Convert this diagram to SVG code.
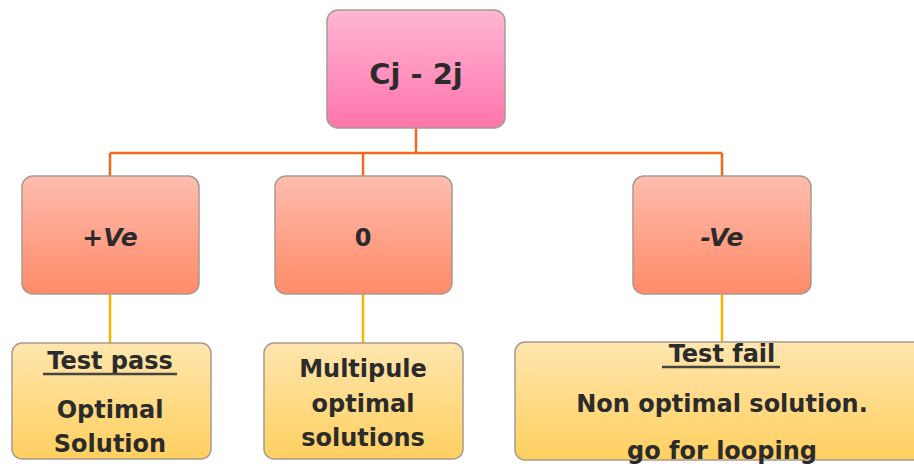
<svg xmlns="http://www.w3.org/2000/svg" width="914" height="466" viewBox="0 0 914 466">
<defs>
<linearGradient id="gPink" x1="0" y1="0" x2="0" y2="1"><stop offset="0" stop-color="#FFB6D3"/><stop offset="1" stop-color="#FF74AC"/></linearGradient>
<linearGradient id="gSalmon" x1="0" y1="0" x2="0" y2="1"><stop offset="0" stop-color="#FFBDAE"/><stop offset="1" stop-color="#FF8A68"/></linearGradient>
<linearGradient id="gYellow" x1="0" y1="0" x2="0" y2="1"><stop offset="0" stop-color="#FFE6AE"/><stop offset="1" stop-color="#FFD060"/></linearGradient>
</defs>
<style>
.box{stroke:#A89A90;stroke-width:1.5}
.t{font-family:"Comic Sans MS","DejaVu Sans",sans-serif;font-weight:bold;fill:#2B2B2B;text-anchor:middle}
.it{font-style:italic}
.or{stroke:#F26A1B;stroke-width:2.5;fill:none}
.ye{stroke:#F7B500;stroke-width:2.5;fill:none}
.ul{stroke:#444;stroke-width:2.5}
</style>
<g id="connectors">
<path class="or" d="M416 128V153M110 153H722M110 153V176M363 153V176M722 153V176"/>
<path class="ye" d="M110 294V343M363 294V343M722 294V342"/>
</g>
<g id="root">
<rect class="box" x="327" y="10" width="178" height="118" rx="11" fill="url(#gPink)"/>
<text class="t" x="416" y="84" font-size="29">Cj - 2j</text>
</g>
<g id="pos">
<rect class="box" x="22" y="176" width="177" height="118" rx="11" fill="url(#gSalmon)"/>
<text class="t it" x="110" y="246" font-size="25">+Ve</text>
</g>
<g id="zero">
<rect class="box" x="275" y="176" width="177" height="118" rx="11" fill="url(#gSalmon)"/>
<text class="t" x="363" y="246" font-size="24">0</text>
</g>
<g id="neg">
<rect class="box" x="633" y="176" width="178" height="118" rx="11" fill="url(#gSalmon)"/>
<text class="t it" x="722" y="246" font-size="25">-Ve</text>
</g>
<g id="testpass">
<rect class="box" x="12" y="343" width="199" height="116" rx="10" fill="url(#gYellow)"/>
<text class="t" x="110" y="369" font-size="24">Test pass</text>
<line class="ul" x1="43" y1="374" x2="177" y2="374"/>
<text class="t" x="110" y="418" font-size="24">Optimal</text>
<text class="t" x="110" y="452" font-size="24">Solution</text>
</g>
<g id="multiple">
<rect class="box" x="264" y="343" width="199" height="116" rx="10" fill="url(#gYellow)"/>
<text class="t" x="363" y="377" font-size="24">Multipule</text>
<text class="t" x="363" y="412" font-size="24">optimal</text>
<text class="t" x="363" y="446" font-size="24">solutions</text>
</g>
<g id="testfail">
<rect class="box" x="515" y="342" width="420" height="118" rx="10" fill="url(#gYellow)"/>
<text class="t" x="722" y="362" font-size="24">Test fail</text>
<line class="ul" x1="662" y1="367" x2="780" y2="367"/>
<text class="t" x="722" y="412" font-size="24">Non optimal solution.</text>
<text class="t" x="722" y="459" font-size="24">go for looping</text>
</g>
</svg>
